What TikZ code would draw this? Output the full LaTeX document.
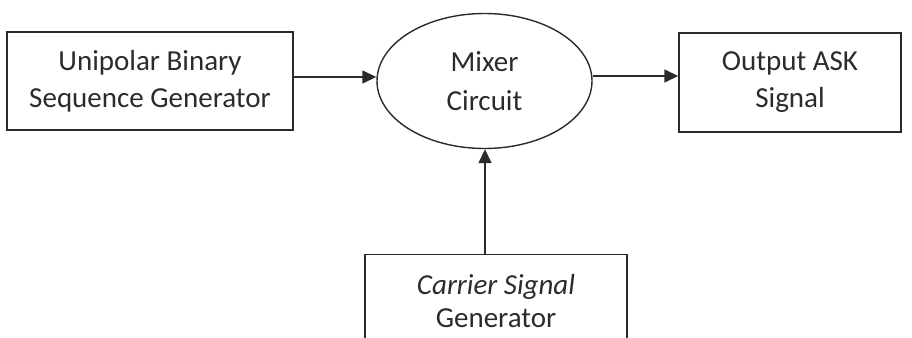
\documentclass[tikz,border=0pt]{standalone}
\usepackage{fontspec}
\setmainfont{Carlito}
\usetikzlibrary{shapes.geometric,arrows.meta}
\definecolor{ink}{HTML}{2B2B2B}
\begin{document}
\begin{tikzpicture}[x=1pt,y=-1pt,
  blockbox/.style={draw=ink,line width=1.4pt,text=ink,align=center,inner sep=0pt,
    font=\fontsize{29}{37}\selectfont},
  mixer/.style={ellipse,draw=ink,line width=1.4pt,text=ink,align=center,inner sep=0pt,
    font=\fontsize{29}{39}\selectfont},
  conn/.style={draw=ink,line width=1.4pt,-{Triangle[length=14pt,width=13pt]}}]
\useasboundingbox (0,0) rectangle (912,337);
\node[blockbox,minimum width=286pt,minimum height=98pt] (ubsg) at (150,81) {Unipolar Binary\\Sequence Generator};
\node[mixer,minimum width=215pt,minimum height=135pt] (mix) at (484.5,81) {Mixer\\Circuit};
\node[blockbox,minimum width=222pt,minimum height=99pt] (out) at (790,82.5) {Output ASK\\Signal};
\node[blockbox,minimum width=262pt,minimum height=120pt,anchor=north] (car) at (496,254) {};
\node[text=ink,align=center,font=\fontsize{29}{33}\selectfont,anchor=north] (cartext) at (496,271) {\textit{Carrier Signal}\\Generator};
\coordinate (carin) at (485,254);
\draw[conn] (ubsg.east |- 0,77) -- (mix.west |- 0,77);
\draw[conn] (mix.east |- 0,76) -- (out.west |- 0,76);
\draw[conn] (carin) -- (carin |- mix.south);
\end{tikzpicture}
\end{document}
